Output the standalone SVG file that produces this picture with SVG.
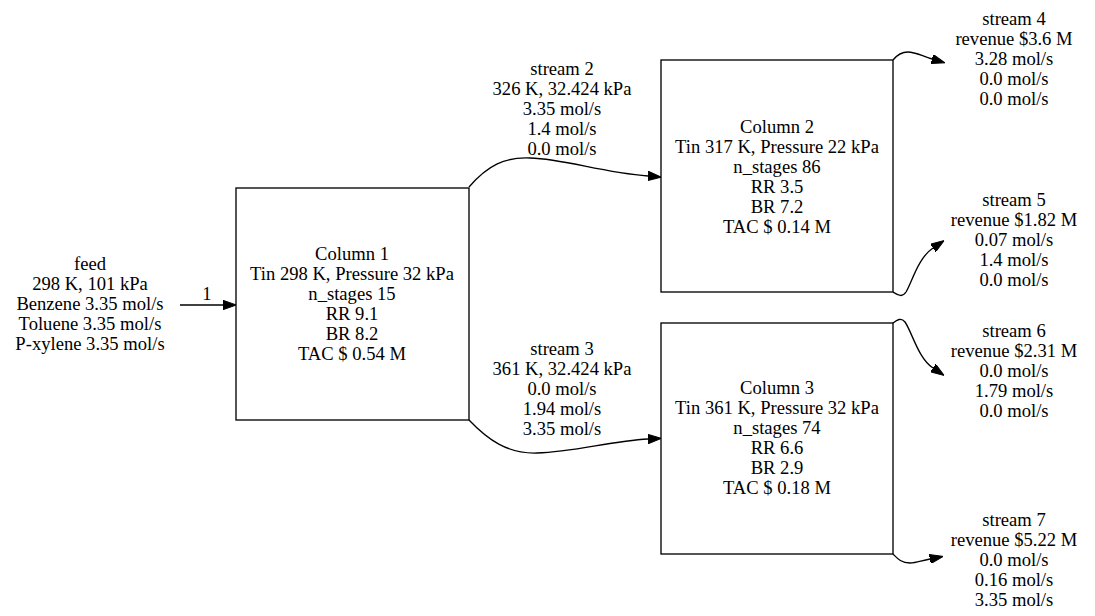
<svg xmlns="http://www.w3.org/2000/svg" width="1095" height="616" viewBox="0 0 1095 616">
<style>
text{font-family:'Liberation Serif','Tinos','Nimbus Roman','Nimbus Roman No9 L','FreeSerif','Noto Serif','DejaVu Serif','Times New Roman',Times,serif;font-size:18.6px;fill:#000;text-anchor:middle}
.box{fill:#fff;stroke:#000;stroke-width:1.33}
.edge{fill:none;stroke:#000;stroke-width:1.33}
</style>
<defs>
<marker id="arr" markerUnits="userSpaceOnUse" viewBox="0 0 13.3 9.4" refX="0" refY="4.7" markerWidth="13.3" markerHeight="9.4" orient="auto">
<path d="M0,0 L13.3,4.7 L0,9.4 z" fill="#000" stroke="#000" stroke-width="1"/>
</marker>
</defs>
<rect width="1095" height="616" fill="#fff"/>

<g id="edges">
<path class="edge" d="M180,305 L223,305" marker-end="url(#arr)"/>
<text x="207" y="300">1</text>
<path class="edge" d="M469,187 C488,165 505,157 530,158 C565,159 600,172 648,176" marker-end="url(#arr)"/>
<text x="562" y="75"><tspan x="562">stream 2</tspan><tspan x="562" dy="20">326 K, 32.424 kPa</tspan><tspan x="562" dy="20">3.35 mol/s</tspan><tspan x="562" dy="20">1.4 mol/s</tspan><tspan x="562" dy="20">0.0 mol/s</tspan></text>
<path class="edge" d="M469,420 C488,440 508,454 537,453 C575,452 610,441 648,439" marker-end="url(#arr)"/>
<text x="562" y="355"><tspan x="562">stream 3</tspan><tspan x="562" dy="20">361 K, 32.424 kPa</tspan><tspan x="562" dy="20">0.0 mol/s</tspan><tspan x="562" dy="20">1.94 mol/s</tspan><tspan x="562" dy="20">3.35 mol/s</tspan></text>
<path class="edge" d="M893,60 C897,55 901,52 908,52 C915,52 922,56 932,59" marker-end="url(#arr)"/>
<path class="edge" d="M893,292 C898,295 902,298 906,292 C912,282 918,258 933,248" marker-end="url(#arr)"/>
<path class="edge" d="M893,323 C897,320 901,317 905,322 C912,332 918,358 933,368" marker-end="url(#arr)"/>
<path class="edge" d="M893,554 C897,558 901,563 910,563 C916,563 920,561 930,559" marker-end="url(#arr)"/>
</g>

<g id="feed">
<text x="90" y="270"><tspan x="90">feed</tspan><tspan x="90" dy="20">298 K, 101 kPa</tspan><tspan x="90" dy="20">Benzene 3.35 mol/s</tspan><tspan x="90" dy="20">Toluene 3.35 mol/s</tspan><tspan x="90" dy="20">P-xylene 3.35 mol/s</tspan></text>
</g>

<g id="col1">
<rect class="box" x="236" y="188" width="233" height="232"/>
<text x="352" y="260"><tspan x="352">Column 1</tspan><tspan x="352" dy="20">Tin 298 K, Pressure 32 kPa</tspan><tspan x="352" dy="20">n_stages 15</tspan><tspan x="352" dy="20">RR 9.1</tspan><tspan x="352" dy="20">BR 8.2</tspan><tspan x="352" dy="20">TAC $ 0.54 M</tspan></text>
</g>

<g id="col2">
<rect class="box" x="661" y="60" width="232" height="232"/>
<text x="777" y="133"><tspan x="777">Column 2</tspan><tspan x="777" dy="20">Tin 317 K, Pressure 22 kPa</tspan><tspan x="777" dy="20">n_stages 86</tspan><tspan x="777" dy="20">RR 3.5</tspan><tspan x="777" dy="20">BR 7.2</tspan><tspan x="777" dy="20">TAC $ 0.14 M</tspan></text>
</g>

<g id="col3">
<rect class="box" x="661" y="323" width="232" height="231"/>
<text x="777" y="394"><tspan x="777">Column 3</tspan><tspan x="777" dy="20">Tin 361 K, Pressure 32 kPa</tspan><tspan x="777" dy="20">n_stages 74</tspan><tspan x="777" dy="20">RR 6.6</tspan><tspan x="777" dy="20">BR 2.9</tspan><tspan x="777" dy="20">TAC $ 0.18 M</tspan></text>
</g>

<g id="s4">
<text x="1014" y="25"><tspan x="1014">stream 4</tspan><tspan x="1014" dy="20">revenue $3.6 M</tspan><tspan x="1014" dy="20">3.28 mol/s</tspan><tspan x="1014" dy="20">0.0 mol/s</tspan><tspan x="1014" dy="20">0.0 mol/s</tspan></text>
</g>
<g id="s5">
<text x="1014" y="206"><tspan x="1014">stream 5</tspan><tspan x="1014" dy="20">revenue $1.82 M</tspan><tspan x="1014" dy="20">0.07 mol/s</tspan><tspan x="1014" dy="20">1.4 mol/s</tspan><tspan x="1014" dy="20">0.0 mol/s</tspan></text>
</g>
<g id="s6">
<text x="1014" y="337"><tspan x="1014">stream 6</tspan><tspan x="1014" dy="20">revenue $2.31 M</tspan><tspan x="1014" dy="20">0.0 mol/s</tspan><tspan x="1014" dy="20">1.79 mol/s</tspan><tspan x="1014" dy="20">0.0 mol/s</tspan></text>
</g>
<g id="s7">
<text x="1014" y="526"><tspan x="1014">stream 7</tspan><tspan x="1014" dy="20">revenue $5.22 M</tspan><tspan x="1014" dy="20">0.0 mol/s</tspan><tspan x="1014" dy="20">0.16 mol/s</tspan><tspan x="1014" dy="20">3.35 mol/s</tspan></text>
</g>
</svg>
